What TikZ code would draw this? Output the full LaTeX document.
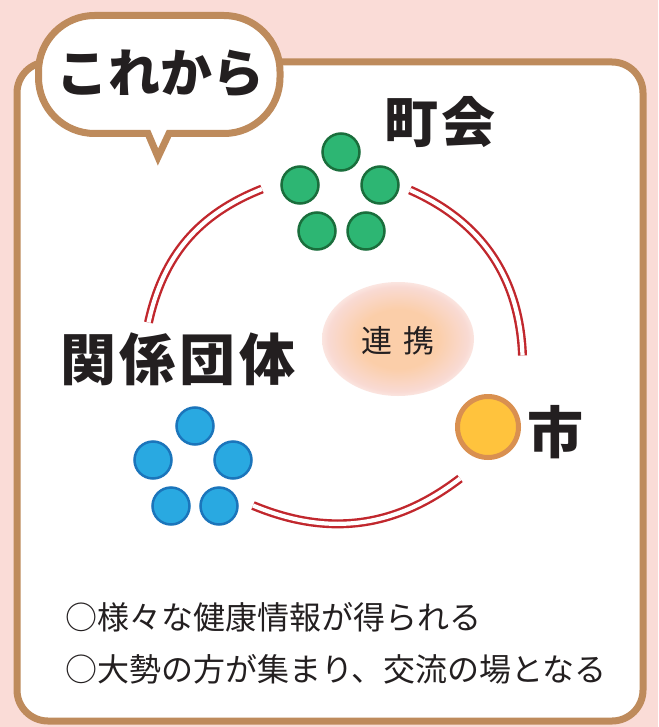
\documentclass[tikz,border=0pt]{standalone}
\usepackage{fontspec}
\newfontfamily\jp{Noto Sans CJK JP}
\usetikzlibrary{shapes.geometric}
\definecolor{bgpink}{HTML}{FADCD7}
\definecolor{frame}{HTML}{BE8B5C}
\definecolor{gfill}{HTML}{2DB673}
\definecolor{gline}{HTML}{1A6E3C}
\definecolor{bfill}{HTML}{29A9E1}
\definecolor{bline}{HTML}{1B75BB}
\definecolor{ofill}{HTML}{FFC33D}
\definecolor{oline}{HTML}{D99050}
\definecolor{linkred}{HTML}{C1272D}
\definecolor{ink}{HTML}{231F20}
\definecolor{peach}{HTML}{FBCEA9}
\definecolor{peachedge}{HTML}{F9DAD3}
\pgfdeclareradialshading{softell}{\pgfpoint{0bp}{0bp}}{color(0bp)=(peach); color(13bp)=(peach); color(23bp)=(peachedge); color(25bp)=(peachedge!70!white); color(50bp)=(white)}
\begin{document}
\begin{tikzpicture}[x=1pt,y=1pt,
  gdot/.style={circle, draw=gline, fill=gfill, line width=2.5pt, minimum size=37pt, inner sep=0pt},
  bdot/.style={circle, draw=bline, fill=bfill, line width=2.5pt, minimum size=37pt, inner sep=0pt},
  odot/.style={circle, draw=oline, fill=ofill, line width=5pt, minimum size=61pt, inner sep=0pt},
  link/.style={draw=linkred, line width=2.4pt, double=white, double distance=4.2pt},
  bigtxt/.style={text=ink, inner sep=0pt, font=\jp\bfseries\fontsize{54}{60}\selectfont},
  bodytxt/.style={text=ink, inner sep=0pt, anchor=west, font=\jp\fontsize{32}{38}\selectfont}
]
\fill[bgpink] (0,0) rectangle (658,-727);
\useasboundingbox (0,0) rectangle (658,-727);
% main frame
\draw[frame, fill=white, line width=7pt, rounded corners=31pt] (17,-62) rectangle (643,-721);
% speech bubble
\draw[frame, fill=white, line width=7pt]
  (148,-133.5) -- (158,-157) -- (169,-133.5)
  -- (224,-133.5) arc[start angle=-90, end angle=0, radius=56]
  -- (280,-71.5) arc[start angle=0, end angle=90, radius=56]
  -- (94.5,-15.5) arc[start angle=90, end angle=180, radius=56]
  -- (38.5,-77.5) arc[start angle=180, end angle=270, radius=56] -- cycle;
\node[bigtxt, font=\jp\bfseries\fontsize{52}{60}\selectfont] (title) at (160,-74) {これから};
% labels
\node[bigtxt] (chokai) at (440,-122) {町\hspace{3pt}会};
\node[bigtxt, font=\jp\bfseries\fontsize{56}{60}\selectfont] (kankei) at (178,-359) {関\hspace{4pt}係\hspace{4pt}団\hspace{4pt}体};
\node[bigtxt, font=\jp\bfseries\fontsize{56}{60}\selectfont] (shi) at (555,-432) {市};
% central ellipse
\node[ellipse, shading=softell, minimum width=152pt, minimum height=114pt, inner sep=0pt] (renkei) at (398,-339) {};
\node[text=ink, inner sep=0pt, font=\jp\fontsize{31}{36}\selectfont] (renkeitxt) at (398,-341) {連\hspace{11pt}携};
% green group
\node[gdot] (g1) at (341,-152) {};
\node[gdot] (g2) at (300,-185) {};
\node[gdot] (g3) at (380,-185) {};
\node[gdot] (g4) at (317,-231) {};
\node[gdot] (g5) at (366,-231) {};
% blue group
\node[bdot] (b1) at (195,-426) {};
\node[bdot] (b2) at (153,-460) {};
\node[bdot] (b3) at (233,-460) {};
\node[bdot] (b4) at (171,-506) {};
\node[bdot] (b5) at (219,-506) {};
% city
\node[odot] (city) at (488,-427) {};
% link ends
\coordinate (l1a) at (148.5,-322.5);
\coordinate (l1b) at (262,-189);
\coordinate (l2a) at (410,-190);
\coordinate (l2b) at (522.5,-355.5);
\coordinate (l3a) at (253,-505.5);
\coordinate (l3b) at (460,-478.5);
\draw[link] (l1a) to[bend left=28] (l1b);
\draw[link] (l2a) to[bend left=32] (l2b);
\draw[link] (l3a) to[bend right=30] (l3b);
% body text
\node[bodytxt] (line1) at (65,-617) {○様々な健康情報が得られる};
\node[bodytxt] (line2) at (65,-669) {○大勢の方が集まり、交流の場となる};
\end{tikzpicture}
\end{document}
